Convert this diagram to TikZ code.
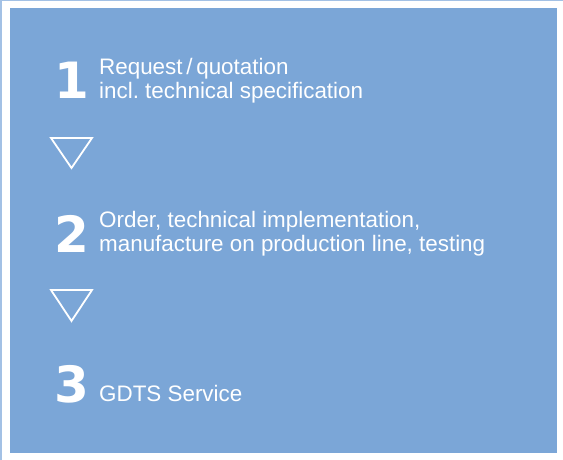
\documentclass[tikz,border=0pt]{standalone}
\usepackage{fontspec}
\setmainfont{Liberation Sans}
\newfontfamily\digitfont{DejaVu Sans}
\definecolor{panelblue}{HTML}{7BA6D7}
\definecolor{edgeblue}{HTML}{A3C1E5}
\frenchspacing
\begin{document}
\begin{tikzpicture}[x=1pt,y=-1pt,
  steptext/.style={anchor=base west,inner sep=0pt,text=white,font=\fontsize{22.4}{24}\selectfont},
  stepnum/.style={anchor=base west,inner sep=0pt,text=white,font=\digitfont\bfseries\fontsize{50}{50}\selectfont},
  downtri/.style={draw=white,line width=1.8pt,line join=miter}]
\useasboundingbox (0,0) rectangle (563,460);
\fill[white] (0,0) rectangle (563,460);
\fill[edgeblue] (0,0) rectangle (563,1.5);
\fill[edgeblue] (0,0) rectangle (2.2,460);
\fill[panelblue] (10,8.5) rectangle (557,453);
% step 1
\node[stepnum] (n1) at (54,98.5) {1};
\node[steptext] (t1a) at (99,75) {Request\,/\,quotation};
\node[steptext] (t1b) at (99,99) {incl. technical specification};
% arrow 1
\draw[downtri] (51,138) -- (92,138) -- (71.5,168) -- cycle;
% step 2
\node[stepnum] (n2) at (54,252.5) {2};
\node[steptext] (t2a) at (99,227.5) {Order, technical implementation,};
\node[steptext] (t2b) at (99,251.5) {manufacture on production line, testing};
% arrow 2
\draw[downtri] (51,290) -- (92,290) -- (71.5,321) -- cycle;
% step 3
\node[stepnum] (n3) at (54,402.5) {3};
\node[steptext] (t3) at (99,401) {GDTS Service};
\end{tikzpicture}
\end{document}
